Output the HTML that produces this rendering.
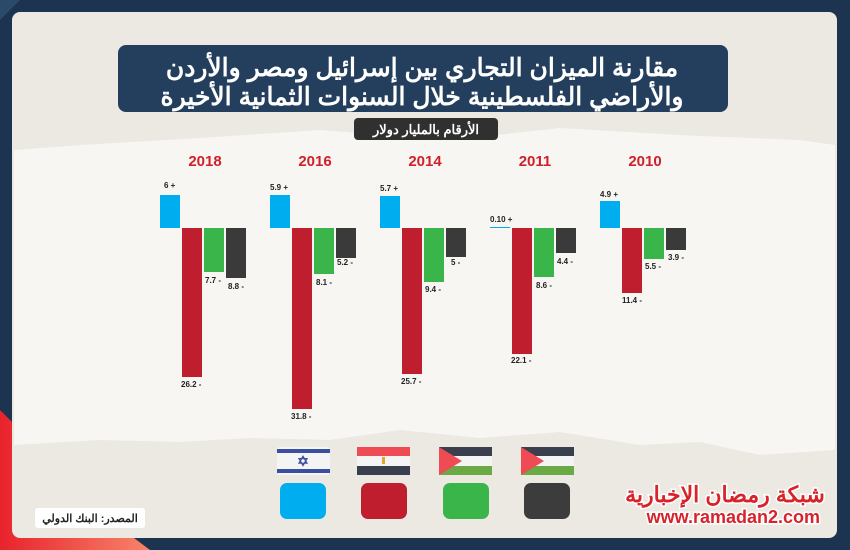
<!DOCTYPE html>
<html><head><meta charset="utf-8"><style>
body{margin:0;width:850px;height:550px;overflow:hidden;background:#1d3450}
svg{display:block}
text{font-family:"Liberation Sans","Noto Sans CJK SC",sans-serif;font-weight:bold}
</style></head><body>
<svg width="850" height="550" viewBox="0 0 850 550">
<defs>
<linearGradient id="rg" x1="0" y1="0" x2="1" y2="0"><stop offset="0" stop-color="#e8232b"/><stop offset="1" stop-color="#f7846a"/></linearGradient>
</defs>
<rect width="850" height="550" fill="#1d3450"/>
<polygon points="0,410 0,550 150,550 110,520" fill="url(#rg)"/>
<polygon points="0,0 20,0 0,20" fill="#2b4a6a"/>
<rect x="12" y="12" width="825" height="526" rx="8" fill="#ece8e2"/>
<polygon points="14,150 80,145 200,138 320,130 450,140 560,128 680,135 800,140 835,145 835,450 760,455 700,442 640,445 560,432 480,438 400,430 330,440 250,438 180,442 100,440 14,445" fill="#f7f6f3"/>
<rect x="118" y="45" width="610" height="67" rx="8" fill="#243f5d"/>
<text x="422" y="76" font-size="25" fill="#fff" text-anchor="middle" direction="rtl">مقارنة الميزان التجاري بين إسرائيل ومصر والأردن</text>
<text x="422" y="105" font-size="25" fill="#fff" text-anchor="middle" direction="rtl">والأراضي الفلسطينية خلال السنوات الثمانية الأخيرة</text>
<rect x="354" y="118" width="144" height="22" rx="4" fill="#303030"/>
<text x="426" y="134" font-size="13" fill="#fff" text-anchor="middle" direction="rtl">الأرقام بالمليار دولار</text>
<g font-size="15" fill="#d0202a" text-anchor="middle">
<text x="205" y="166">2018</text><text x="315" y="166">2016</text><text x="425" y="166">2014</text><text x="535" y="166">2011</text><text x="645" y="166">2010</text>
</g>
<g font-size="8" fill="#222">
<rect x="160" y="195" width="20" height="33" fill="#00aeef"/>
<rect x="182" y="228" width="20" height="149" fill="#be1e2d"/>
<rect x="204" y="228" width="20" height="44" fill="#39b54a"/>
<rect x="226" y="228" width="20" height="50" fill="#3a3a3a"/>
<text x="164" y="188">6 +</text><text x="181" y="387">26.2 -</text><text x="205" y="283">7.7 -</text><text x="228" y="289">8.8 -</text>
<rect x="270" y="195" width="20" height="33" fill="#00aeef"/>
<rect x="292" y="228" width="20" height="181" fill="#be1e2d"/>
<rect x="314" y="228" width="20" height="46" fill="#39b54a"/>
<rect x="336" y="228" width="20" height="30" fill="#3a3a3a"/>
<text x="270" y="190">5.9 +</text><text x="291" y="419">31.8 -</text><text x="316" y="285">8.1 -</text><text x="337" y="265">5.2 -</text>
<rect x="380" y="196" width="20" height="32" fill="#00aeef"/>
<rect x="402" y="228" width="20" height="146" fill="#be1e2d"/>
<rect x="424" y="228" width="20" height="54" fill="#39b54a"/>
<rect x="446" y="228" width="20" height="29" fill="#3a3a3a"/>
<text x="380" y="191">5.7 +</text><text x="401" y="384">25.7 -</text><text x="425" y="292">9.4 -</text><text x="451" y="265">5 -</text>
<rect x="490" y="227" width="20" height="1" fill="#00aeef"/>
<rect x="512" y="228" width="20" height="126" fill="#be1e2d"/>
<rect x="534" y="228" width="20" height="49" fill="#39b54a"/>
<rect x="556" y="228" width="20" height="25" fill="#3a3a3a"/>
<text x="490" y="222">0.10 +</text><text x="511" y="363">22.1 -</text><text x="536" y="288">8.6 -</text><text x="557" y="264">4.4 -</text>
<rect x="600" y="201" width="20" height="27" fill="#00aeef"/>
<rect x="622" y="228" width="20" height="65" fill="#be1e2d"/>
<rect x="644" y="228" width="20" height="31" fill="#39b54a"/>
<rect x="666" y="228" width="20" height="22" fill="#3a3a3a"/>
<text x="600" y="197">4.9 +</text><text x="622" y="303">11.4 -</text><text x="645" y="269">5.5 -</text><text x="668" y="260">3.9 -</text>
</g>
<rect x="277" y="447" width="53" height="28" rx="3" fill="#f4f4f4"/>
<rect x="277" y="449" width="53" height="4" fill="#3b4fa0"/><rect x="277" y="469" width="53" height="4" fill="#3b4fa0"/>
<text x="303" y="466" font-size="14" fill="#3b4fa0" text-anchor="middle">✡</text>
<rect x="357" y="447" width="53" height="9" fill="#ef4b55"/><rect x="357" y="456" width="53" height="10" fill="#f4f4f4"/><rect x="357" y="466" width="53" height="9" fill="#3a3f4d"/>
<rect x="382" y="457" width="3" height="7" fill="#e5a52a"/>
<rect x="439" y="447" width="53" height="9" fill="#3a3f4d"/><rect x="439" y="456" width="53" height="10" fill="#f4f4f4"/><rect x="439" y="466" width="53" height="9" fill="#6aa944"/>
<polygon points="439,447 462,461 439,475" fill="#ef4b55"/>
<rect x="521" y="447" width="53" height="9" fill="#3a3f4d"/><rect x="521" y="456" width="53" height="10" fill="#f4f4f4"/><rect x="521" y="466" width="53" height="9" fill="#6aa944"/>
<polygon points="521,447 544,461 521,475" fill="#ef4b55"/>
<rect x="280" y="483" width="46" height="36" rx="7" fill="#00aeef"/>
<rect x="361" y="483" width="46" height="36" rx="7" fill="#be1e2d"/>
<rect x="443" y="483" width="46" height="36" rx="7" fill="#39b54a"/>
<rect x="524" y="483" width="46" height="36" rx="7" fill="#3c3c3c"/>
<rect x="35" y="508" width="110" height="20" rx="3" fill="#fff"/>
<text x="90" y="522" font-size="11" fill="#222" text-anchor="middle" direction="rtl">المصدر: البنك الدولي</text>
<text x="725" y="502" font-size="22" fill="#d8232a" stroke="#fff" stroke-width="3" paint-order="stroke" text-anchor="middle" direction="rtl">شبكة رمضان الإخبارية</text>
<text x="820" y="523" font-size="18" fill="#d8232a" stroke="#fff" stroke-width="3" paint-order="stroke" text-anchor="end">www.ramadan2.com</text>
</svg>
</body></html>
